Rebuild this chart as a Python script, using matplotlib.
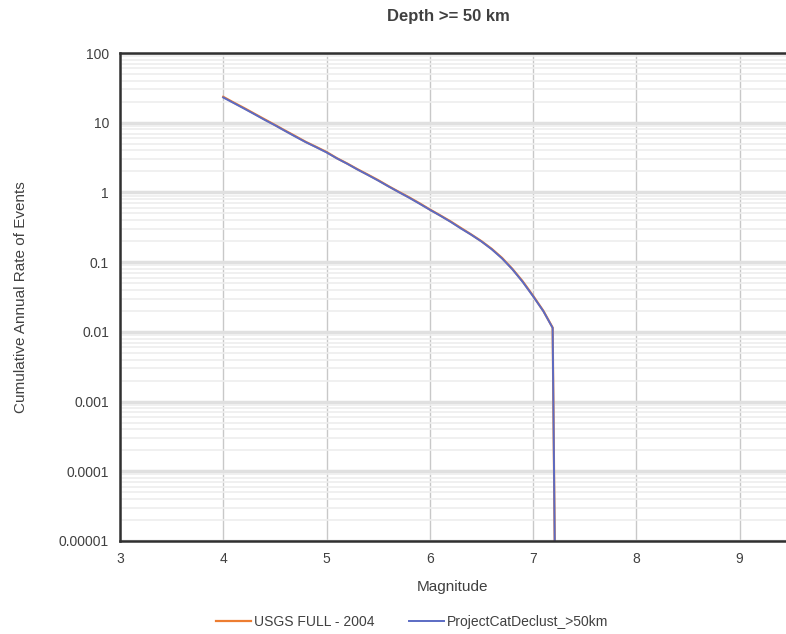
import matplotlib.pyplot as plt
import numpy as np
from matplotlib.ticker import LogLocator, FixedLocator, NullFormatter

plt.rcParams['font.family'] = ['Liberation Sans', 'DejaVu Sans']

# magnitude bins and cumulative annual rates
magnitude = [4.0, 4.1, 4.2, 4.3, 4.4, 4.5, 4.6, 4.7, 4.8, 4.9,
             5.0, 5.1, 5.2, 5.3, 5.4, 5.5, 5.6, 5.7, 5.8, 5.9,
             6.0, 6.1, 6.2, 6.3, 6.4, 6.5, 6.6, 6.7, 6.8, 6.9,
             7.0, 7.1, 7.19, 7.21]
usgs_full = [23.5, 19.5, 16.3, 13.5, 11.2, 9.3, 7.7, 6.4, 5.3, 4.5,
             3.8, 3.1, 2.6, 2.15, 1.8, 1.5, 1.23, 1.02, 0.85, 0.7,
             0.57, 0.47, 0.385, 0.31, 0.25, 0.2, 0.155, 0.115, 0.08, 0.053,
             0.033, 0.02, 0.0115, 0.00001]
project_cat = [23.0, 19.2, 16.0, 13.3, 11.0, 9.2, 7.6, 6.3, 5.25, 4.45,
               3.75, 3.08, 2.58, 2.13, 1.78, 1.48, 1.22, 1.01, 0.84, 0.69,
               0.565, 0.465, 0.38, 0.305, 0.248, 0.198, 0.153, 0.113, 0.079, 0.052,
               0.0325, 0.0198, 0.0114, 0.00001]

ytick_vals = [0.00001, 0.0001, 0.001, 0.01, 0.1, 1, 10, 100]
ytick_labels = ['0.00001', '0.0001', '0.001', '0.01', '0.1', '1', '10', '100']
xtick_vals = [3, 4, 5, 6, 7, 8, 9]

fig = plt.figure(figsize=(7.86, 6.34), dpi=100)
ax = fig.add_axes([120/786, 1 - 541/634, 1 - 120/786, (541 - 53)/634])

ax.plot(magnitude, usgs_full, color='#ED7D31', lw=1.6, label='USGS FULL - 2004')
ax.plot(magnitude, project_cat, color='#5B6BC4', lw=1.4, label='ProjectCatDeclust_>50km')

ax.set_yscale('log')
ax.set_ylim(1e-5, 100)
ax.set_xlim(3, 9.45)
ax.yaxis.set_major_locator(FixedLocator(ytick_vals))
ax.set_yticklabels(ytick_labels)
ax.yaxis.set_minor_locator(LogLocator(base=10, subs=np.arange(2, 10), numticks=20))
ax.yaxis.set_minor_formatter(NullFormatter())
ax.set_xticks(xtick_vals)

ax.grid(which='major', axis='x', color='#c8c8c8', lw=1)
ax.grid(which='major', axis='y', color='#e0e0e0', lw=2.5)
ax.grid(which='minor', axis='y', color='#eeeeee', lw=1.2)
ax.set_axisbelow(True)
ax.tick_params(which='both', length=0, labelsize=10, colors='#404040', pad=8)

for s in ['left', 'top', 'bottom']:
    ax.spines[s].set_color('#303030')
    ax.spines[s].set_linewidth(1.8)
ax.spines['right'].set_visible(False)

ax.set_xlabel('Magnitude', fontsize=11, color='#404040', labelpad=10)
ax.set_ylabel('Cumulative Annual Rate of Events', fontsize=11, color='#404040')
ax.yaxis.set_label_coords(-(120 - 28)/666, 0.5)
fig.text(448/786, 1 - 16/634, 'Depth >= 50 km', ha='center', va='center',
         fontsize=12, fontweight='bold', color='#404040')

fig.legend(loc='center', bbox_to_anchor=(412/786, 1 - 622/634), ncol=2, frameon=False,
           fontsize=10, handlelength=2.5, handletextpad=0.2, columnspacing=2.5,
           labelcolor='#404040')

fig.savefig('out.png', dpi=100)
